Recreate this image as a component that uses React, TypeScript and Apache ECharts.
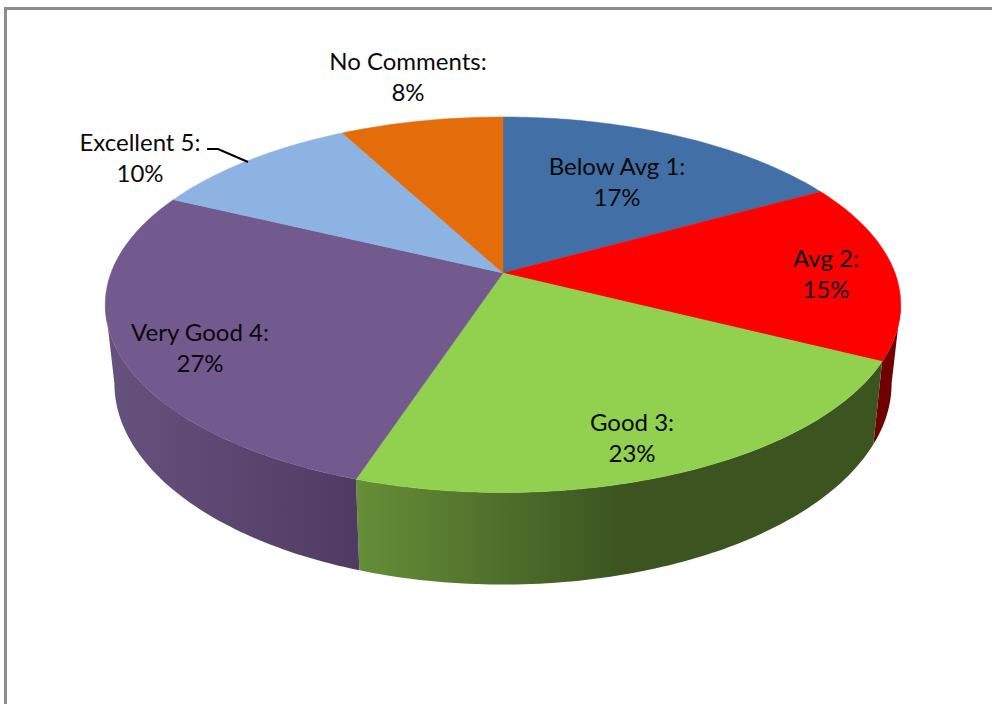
import React, { useEffect, useRef } from "react";
import * as echarts from "echarts";

const categories = ["Below Avg 1", "Avg 2", "Good 3", "Very Good 4", "Excellent 5", "No Comments"];
const values = [17.0, 15.4, 22.7, 27.0, 10.1, 7.8];

const topColors = ["#4270A6", "#FF0000", "#92D050", "#72598E", "#8DB3E2", "#E46C0A"];
const wallStops: (string | [number, string][])[] = [
  "#2A4A70",
  "#700000",
  [[0, "#668F38"], [0.51, "#3B5420"], [1, "#3B5420"]],
  [[0, "#66527E"], [1, "#4F3B62"]],
  "#5A7AA0",
  "#904608",
];

// Placement of the drawing, separate from the data
const TOP = { cx: 503, cy: 273, a: 392, b: 182.4, k: 0.169, drop: 0 };
const RIM = { cx: 503, cy: 273, a: 383, b: 182.4, k: 0.169, drop: 76.5 };
const LABEL_CENTERS = [[617, 181], [826, 273], [632, 437], [200, 347], [140, 157], [408, 76]];
const LEADER = [[207, 149], [218, 149], [248, 162]];

const total = values.reduce((s, v) => s + v, 0);
const starts = values.map((_, i) => (values.slice(0, i).reduce((s, v) => s + v, 0) / total) * 360);
const ends = values.map((v, i) => starts[i] + (v / total) * 360);

type Proj = { cx: number; cy: number; a: number; b: number; k: number; drop: number };
function project(p: Proj, deg: number): number[] {
  const t = (deg * Math.PI) / 180;
  const s = 1 / (1 + p.k * Math.cos(t));
  return [p.cx + p.a * Math.sin(t) * s, p.cy + (p.drop - p.b * Math.cos(t)) * s];
}
function arc(p: Proj, from: number, to: number): number[][] {
  const n = Math.max(2, Math.ceil(Math.abs(to - from)));
  const pts: number[][] = [];
  for (let i = 0; i <= n; i++) pts.push(project(p, from + ((to - from) * i) / n));
  return pts;
}
const WALL_FROM = 99.7;
const WALL_TO = 260.3;

export default function App() {
  const ref = useRef<HTMLDivElement>(null);
  useEffect(() => {
    const chart = echarts.init(ref.current!, null, { renderer: "svg" });
    const rows = categories.map((name, i) => ({ name, value: values[i] }));
    chart.setOption({
      animation: false,
      backgroundColor: "#ffffff",
      graphic: [
        {
          type: "polyline",
          z: 1,
          silent: true,
          shape: { points: [[5.5, 704], [5.5, 8.5], [992, 8.5]] },
          style: { stroke: "#8C8C8C", lineWidth: 3, fill: "none" },
        },
        {
          type: "polyline",
          z: 50,
          silent: true,
          shape: { points: LEADER },
          style: { stroke: "#000000", lineWidth: 2, fill: "none" },
        },
      ],
      series: [
        {
          type: "custom",
          coordinateSystem: "none",
          silent: true,
          z: 2,
          data: rows,
          renderItem: (params: any) => {
            const i = params.dataIndex;
            const from = Math.max(starts[i], WALL_FROM);
            const to = Math.min(ends[i], WALL_TO);
            if (to <= from) return { type: "group", children: [] };
            const stops = wallStops[i];
            const fill =
              typeof stops === "string"
                ? stops
                : new echarts.graphic.LinearGradient(
                    0, 0, 1, 0,
                    stops.map(([offset, color]) => ({ offset, color }))
                  );
            const points = [...arc(TOP, from, to), ...arc(RIM, to, from)];
            return { type: "polygon", shape: { points }, style: { fill } };
          },
        },
        {
          type: "custom",
          coordinateSystem: "none",
          silent: true,
          z: 3,
          data: rows,
          renderItem: (params: any) => {
            const i = params.dataIndex;
            const points = [[TOP.cx, TOP.cy], ...arc(TOP, starts[i], ends[i])];
            return {
              type: "polygon",
              shape: { points },
              style: { fill: topColors[i], stroke: topColors[i], lineWidth: 0.5 },
            };
          },
        },
        {
          type: "custom",
          coordinateSystem: "none",
          silent: true,
          z: 4,
          data: rows,
          renderItem: (params: any, api: any) => {
            const i = params.dataIndex;
            return {
              type: "text",
              x: LABEL_CENTERS[i][0],
              y: LABEL_CENTERS[i][1],
              style: {
                text: `${categories[i]}:\n${Math.round(api.value(0))}%`,
                fontFamily: "Lato",
                fontSize: 24,
                lineHeight: 31,
                fill: "#0A0A0A",
                align: "center",
                verticalAlign: "middle",
              },
            };
          },
          encode: { value: 0 },
        },
      ],
    });
    return () => chart.dispose();
  }, []);
  return (
    <div
      ref={ref}
      style={{ position: "fixed", left: 0, top: 0, width: 992, height: 704 }}
    />
  );
}
